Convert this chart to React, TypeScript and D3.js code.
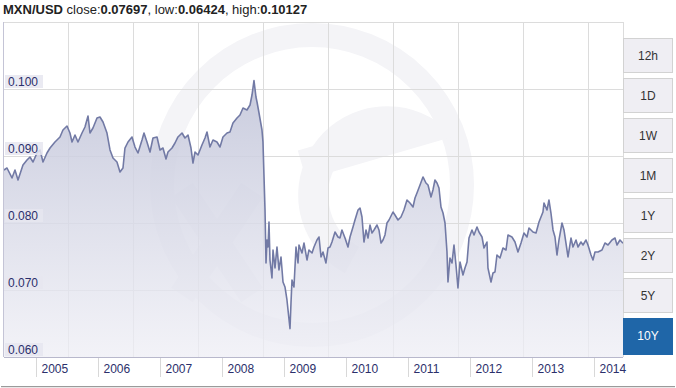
import React from "react";
import * as d3 from "d3";

const years = [
  2004.484, 2004.532, 2004.613, 2004.661, 2004.710, 2004.790, 2004.855, 2004.903, 2004.952, 2005.016,
  2005.065, 2005.113, 2005.177, 2005.226, 2005.306, 2005.387, 2005.435, 2005.500, 2005.548, 2005.581,
  2005.629, 2005.677, 2005.742, 2005.790, 2005.839, 2005.871, 2005.919, 2005.984, 2006.032, 2006.081,
  2006.145, 2006.194, 2006.242, 2006.306, 2006.355, 2006.403, 2006.435, 2006.484, 2006.548, 2006.597,
  2006.645, 2006.710, 2006.742, 2006.790, 2006.839, 2006.887, 2006.952, 2007.000, 2007.048, 2007.097,
  2007.129, 2007.194, 2007.242, 2007.290, 2007.355, 2007.403, 2007.452, 2007.500, 2007.532, 2007.565,
  2007.613, 2007.677, 2007.726, 2007.758, 2007.806, 2007.855, 2007.919, 2007.968, 2008.016, 2008.081,
  2008.129, 2008.177, 2008.242, 2008.290, 2008.339, 2008.403, 2008.452, 2008.484, 2008.516, 2008.548,
  2008.565, 2008.597, 2008.645, 2008.661, 2008.677, 2008.694, 2008.710, 2008.726, 2008.742, 2008.758,
  2008.774, 2008.806, 2008.823, 2008.855, 2008.887, 2008.919, 2008.952, 2008.984, 2009.016, 2009.048,
  2009.065, 2009.097, 2009.113, 2009.129, 2009.161, 2009.194, 2009.226, 2009.242, 2009.290, 2009.323,
  2009.371, 2009.403, 2009.452, 2009.484, 2009.532, 2009.565, 2009.597, 2009.629, 2009.677, 2009.710,
  2009.742, 2009.774, 2009.823, 2009.871, 2009.903, 2009.935, 2009.984, 2010.032, 2010.065, 2010.113,
  2010.145, 2010.194, 2010.226, 2010.258, 2010.290, 2010.323, 2010.355, 2010.387, 2010.419, 2010.452,
  2010.500, 2010.532, 2010.565, 2010.597, 2010.629, 2010.661, 2010.694, 2010.758, 2010.790, 2010.839,
  2010.887, 2010.935, 2010.984, 2011.032, 2011.081, 2011.113, 2011.145, 2011.194, 2011.242, 2011.290,
  2011.323, 2011.371, 2011.403, 2011.435, 2011.468, 2011.500, 2011.532, 2011.565, 2011.597, 2011.629,
  2011.645, 2011.677, 2011.710, 2011.742, 2011.774, 2011.806, 2011.839, 2011.887, 2011.919, 2011.952,
  2011.984, 2012.032, 2012.065, 2012.113, 2012.145, 2012.194, 2012.226, 2012.274, 2012.290, 2012.339,
  2012.371, 2012.403, 2012.435, 2012.484, 2012.532, 2012.581, 2012.613, 2012.677, 2012.726, 2012.774,
  2012.823, 2012.871, 2012.919, 2012.952, 2013.016, 2013.065, 2013.113, 2013.177, 2013.194, 2013.242,
  2013.274, 2013.306, 2013.339, 2013.371, 2013.403, 2013.435, 2013.484, 2013.516, 2013.548, 2013.581,
  2013.629, 2013.661, 2013.710, 2013.742, 2013.790, 2013.823, 2013.871, 2013.903, 2013.952, 2013.984,
  2014.016, 2014.065, 2014.129, 2014.177, 2014.226, 2014.290, 2014.339, 2014.371, 2014.419, 2014.468,
];

const rates = [
  0.08791, 0.08821, 0.08672, 0.08791, 0.08642, 0.08866, 0.08940, 0.08985, 0.08910, 0.09045,
  0.09090, 0.08910, 0.09045, 0.09119, 0.09209, 0.09284, 0.09388, 0.09448, 0.09343, 0.09209,
  0.09313, 0.09209, 0.09343, 0.09433, 0.09597, 0.09343, 0.09418, 0.09567, 0.09582, 0.09507,
  0.09343, 0.09090, 0.08970, 0.08910, 0.08761, 0.08821, 0.09119, 0.09209, 0.09284, 0.09134,
  0.09045, 0.09239, 0.09343, 0.09209, 0.09060, 0.09269, 0.09284, 0.09090, 0.09119, 0.08955,
  0.09060, 0.09119, 0.09194, 0.09284, 0.09343, 0.09269, 0.09313, 0.09119, 0.08895, 0.09060,
  0.09015, 0.09164, 0.09269, 0.09358, 0.09134, 0.09239, 0.09209, 0.09134, 0.09284, 0.09343,
  0.09358, 0.09492, 0.09567, 0.09612, 0.09716, 0.09687, 0.09761, 0.09910, 0.10127, 0.09881,
  0.09806, 0.09642, 0.09388, 0.09209, 0.08716, 0.08194, 0.07403, 0.07746, 0.07642, 0.08015,
  0.07448, 0.07179, 0.07597, 0.07328, 0.07642, 0.07299, 0.07493, 0.07119, 0.07045, 0.06851,
  0.06701, 0.06424, 0.06806, 0.07149, 0.07045, 0.07642, 0.07403, 0.07672, 0.07552, 0.07701,
  0.07448, 0.07597, 0.07552, 0.07642, 0.07746, 0.07791, 0.07493, 0.07567, 0.07403, 0.07627,
  0.07642, 0.07716, 0.07866, 0.07791, 0.07776, 0.07896, 0.07776, 0.07642, 0.07791, 0.07940,
  0.08045, 0.08194, 0.08224, 0.08090, 0.07716, 0.07896, 0.07776, 0.07970, 0.07851, 0.07896,
  0.07970, 0.07896, 0.07701, 0.07746, 0.07821, 0.08000, 0.08045, 0.08164, 0.08119, 0.08045,
  0.08090, 0.08194, 0.08343, 0.08299, 0.08239, 0.08373, 0.08448, 0.08567, 0.08687, 0.08597,
  0.08567, 0.08388, 0.08493, 0.08642, 0.08597, 0.08522, 0.08239, 0.08149, 0.08000, 0.07567,
  0.07119, 0.07478, 0.07403, 0.07672, 0.07373, 0.07030, 0.07418, 0.07224, 0.07328, 0.07418,
  0.07776, 0.07896, 0.07821, 0.07940, 0.07866, 0.07791, 0.07627, 0.07716, 0.07328, 0.07119,
  0.07254, 0.07269, 0.07522, 0.07478, 0.07627, 0.07597, 0.07821, 0.07791, 0.07716, 0.07567,
  0.07701, 0.07851, 0.07791, 0.07925, 0.07866, 0.07851, 0.08015, 0.08164, 0.08299, 0.08194,
  0.08343, 0.08149, 0.07896, 0.07791, 0.07522, 0.07746, 0.08000, 0.07896, 0.07701, 0.07493,
  0.07776, 0.07642, 0.07746, 0.07642, 0.07716, 0.07672, 0.07746, 0.07672, 0.07522, 0.07448,
  0.07567, 0.07567, 0.07597, 0.07701, 0.07672, 0.07746, 0.07776, 0.07672, 0.07746, 0.07697,
];

const yTicks = [0.06, 0.07, 0.08, 0.09, 0.1];
const yearTicks = [2005, 2006, 2007, 2008, 2009, 2010, 2011, 2012, 2013, 2014];
const rangeButtons = ["12h", "1D", "1W", "1M", "1Y", "2Y", "5Y", "10Y"];
const selectedButton = "10Y";
const pairName = "MXN/USD";
const closeVal = "0.07697";
const lowVal = "0.06424";
const highVal = "0.10127";

const W = 676;
const H = 388;
const M = { left: 4, right: 623, top: 22, bottom: 357 };
const FONT = "'Liberation Sans', Arial, sans-serif";

export default function App() {
  const n = Math.min(years.length, rates.length);
  const data = d3.range(n).map((i) => ({ t: years[i], v: rates[i] }));

  const x = d3.scaleLinear().domain([years[0], years[n - 1]]).range([M.left, M.right]);
  const y = d3.scaleLinear().domain([0.06, 0.11]).range([M.bottom, M.top]);

  const area = d3
    .area<{ t: number; v: number }>()
    .x((d) => x(d.t))
    .y0(y(0.06))
    .y1((d) => y(d.v));
  const line = d3
    .line<{ t: number; v: number }>()
    .x((d) => x(d.t))
    .y((d) => y(d.v));

  const gridCols = d3.range(M.left - 1 + 65, M.right, 65);
  const hGrid = [0.07, 0.08, 0.09, 0.1, 0.11];

  const cx = 312;
  const cy = 185;

  return (
    <svg
      width={W}
      height={H}
      style={{ position: "absolute", left: 0, top: 0, fontFamily: FONT }}
    >
      <defs>
        <linearGradient id="areaGrad" gradientUnits="userSpaceOnUse" x1="0" y1={y(0.101)} x2="0" y2={M.bottom}>
          <stop offset="0" stopColor="#c3c6da" stopOpacity={0.9} />
          <stop offset="1" stopColor="#eeeef5" stopOpacity={0.75} />
        </linearGradient>
        <clipPath id="plotClip">
          <rect x={M.left} y={M.top} width={M.right - M.left} height={M.bottom - M.top} />
        </clipPath>
      </defs>
      <rect x={0} y={0} width={W} height={H} fill="#ffffff" />

      {/* title */}
      <text x={3} y={14} fontSize={13} fill="#222">
        <tspan fontWeight="bold">{pairName}</tspan>
        <tspan> close:</tspan>
        <tspan fontWeight="bold">{closeVal}</tspan>
        <tspan>, low:</tspan>
        <tspan fontWeight="bold">{lowVal}</tspan>
        <tspan>, high:</tspan>
        <tspan fontWeight="bold">{highVal}</tspan>
      </text>

      {/* watermark */}
      <g clipPath="url(#plotClip)" fill="none" stroke="#f4f4f7">
        <circle cx={cx} cy={cy} r={150} strokeWidth={24} />
        <path d={`M${cx - 130},${cy + 5} L${cx - 60},${cy + 110} M${cx - 60},${cy + 5} L${cx - 130},${cy + 110}`} strokeWidth={26} />
        <path
          d={`M${cx - 10},${cy - 20} L${cx + 110},${cy - 55} A 70 70 0 1 0 ${cx + 40},${cy + 75}`}
          strokeWidth={30}
        />
      </g>

      {/* grid */}
      <g stroke="#dcdcdc" strokeWidth={1}>
        {gridCols.map((gx, i) => (
          <line key={"c" + i} x1={gx + 0.5} x2={gx + 0.5} y1={M.top} y2={M.bottom} />
        ))}
        {hGrid.map((v, i) => (
          <line key={"h" + i} x1={M.left} x2={M.right} y1={Math.round(y(v)) + 0.5} y2={Math.round(y(v)) + 0.5} />
        ))}
        <line x1={M.right + 0.5} x2={M.right + 0.5} y1={M.top} y2={M.bottom} />
      </g>

      {/* series */}
      <path d={area(data) || ""} fill="url(#areaGrad)" />
      <path d={line(data) || ""} fill="none" stroke="#727aa5" strokeWidth={1.6} strokeLinejoin="round" />

      {/* axes */}
      <line x1={3.5} x2={3.5} y1={M.top} y2={M.bottom} stroke="#c4c4d6" />
      <line x1={M.left} x2={M.right} y1={M.bottom + 0.5} y2={M.bottom + 0.5} stroke="#b8b8cc" />
      {yearTicks.map((yr) => {
        const tx = Math.round(x(yr)) + 0.5;
        return (
          <g key={yr}>
            <line x1={tx} x2={tx} y1={M.bottom + 1} y2={M.bottom + 20} stroke="#d8d8d8" />
            <text x={tx + 5} y={373} fontSize={12} fill="#2b2f6b">
              {yr}
            </text>
          </g>
        );
      })}
      {yTicks.map((v) => {
        const ty = Math.round(y(v));
        return (
          <g key={v}>
            <rect x={5} y={ty - 14} width={38} height={13} fill="#e6e6f0" fillOpacity={0.85} />
            <text x={8} y={ty - 3} fontSize={12} fill="#2b2f6b">
              {d3.format(".3f")(v)}
            </text>
          </g>
        );
      })}

      {/* range buttons */}
      {rangeButtons.map((b, i) => {
        const by = 38 + i * 40;
        const sel = b === selectedButton;
        return (
          <g key={b}>
            <rect
              x={623.5}
              y={by + 0.5}
              width={49}
              height={sel ? 36 : 34}
              fill={sel ? "#1f66a8" : "#efeef3"}
              stroke={sel ? "#1f66a8" : "#d2d2d2"}
            />
            <text x={648} y={by + 22} fontSize={12} textAnchor="middle" fill={sel ? "#ffffff" : "#333333"}>
              {b}
            </text>
          </g>
        );
      })}

      {/* navigator top edge */}
      <rect x={1} y={386} width={W - 2} height={2} fill="#e8e8e8" />
      <line x1={1} x2={W - 1} y1={386.5} y2={386.5} stroke="#9a9a9a" />
    </svg>
  );
}
